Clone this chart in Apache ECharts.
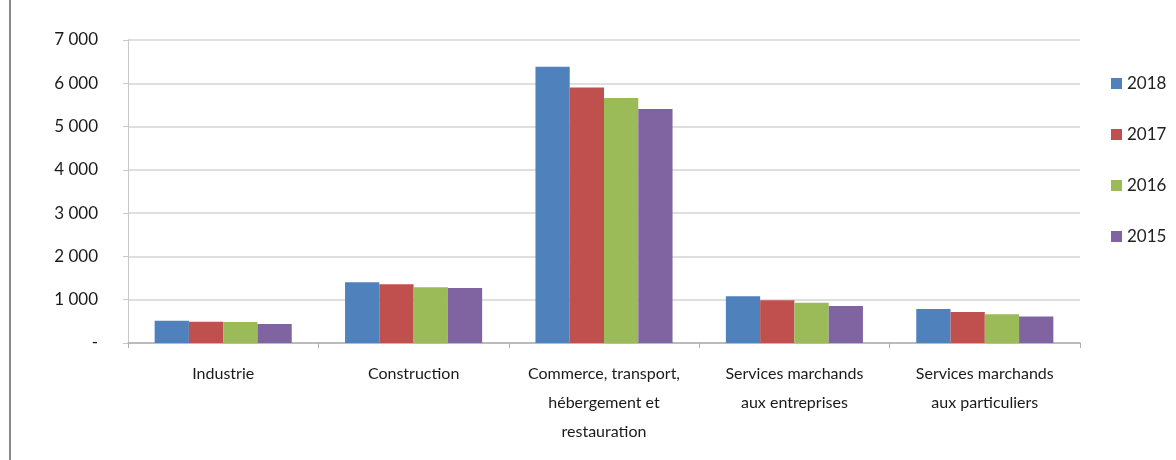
<!DOCTYPE html>
<html>
<head>
<meta charset="utf-8">
<script src="https://cdn.jsdelivr.net/npm/echarts@6/dist/echarts.min.js"></script>
<style>
  html, body { margin: 0; padding: 0; background: #fff; }
  #chart { width: 1176px; height: 460px; }
</style>
</head>
<body>
<div id="chart"></div>
<script>
// categories and values
var categories = [
  'Industrie',
  'Construction',
  'Commerce, transport,\nhébergement et\nrestauration',
  'Services marchands\naux entreprises',
  'Services marchands\naux particuliers'
]
var years = ['2018', '2017', '2016', '2015']
var colors = ['#4F81BD', '#C0504D', '#9BBB59', '#8064A2']
var v2018 = [515, 1405, 6380, 1080, 785]
var v2017 = [490, 1360, 5900, 985, 715]
var v2016 = [485, 1290, 5660, 930, 665]
var v2015 = [440, 1270, 5405, 855, 615]
var values = [v2018, v2017, v2016, v2015]

var font = 'Lato, "Open Sans", sans-serif'

var chartDom = document.getElementById('chart')
var myChart = echarts.init(chartDom)
var option

var series = years.map(function (y, i) {
  return {
    name: y,
    type: 'bar',
    data: values[i],
    barGap: '0%',
    barCategoryGap: '28%',
    itemStyle: { color: colors[i] }
  }
})

option = {
  animation: false,
  color: colors,
  textStyle: { fontFamily: font },
  graphic: [
    {
      type: 'line',
      shape: { x1: 10, y1: 0, x2: 10, y2: 460 },
      style: { stroke: '#8a8a8a', lineWidth: 2 }
    }
  ],
  grid: {
    left: 128,
    right: 96,
    top: 40,
    bottom: 117
  },
  legend: {
    orient: 'vertical',
    left: 1106,
    top: 68,
    itemWidth: 11,
    itemHeight: 11,
    itemGap: 30,
    icon: 'rect',
    textStyle: { fontSize: 17, lineHeight: 21, color: '#222', fontFamily: font }
  },
  xAxis: {
    type: 'category',
    data: categories,
    axisLine: { show: true, lineStyle: { color: '#b0b0b0', width: 1.5 } },
    axisTick: { show: true, length: 5, lineStyle: { color: '#b0b0b0' } },
    axisLabel: {
      interval: 0,
      margin: 16,
      fontSize: 16,
      lineHeight: 29,
      color: '#1a1a1a',
      fontFamily: font
    }
  },
  yAxis: {
    type: 'value',
    min: 0,
    max: 7000,
    interval: 1000,
    axisLine: { show: true, lineStyle: { color: '#c8c8c8', width: 1 } },
    axisTick: { show: true, length: 5, lineStyle: { color: '#c8c8c8' } },
    splitLine: { lineStyle: { color: '#d4d4d4', width: 1.5 } },
    axisLabel: {
      margin: 30,
      fontSize: 17,
      color: '#1a1a1a',
      fontFamily: font,
      formatter: function (v) {
        if (v === 0) return '-'
        return String(v).replace(/\B(?=(\d{3})+(?!\d))/g, ' ')
      }
    }
  },
  series: series
}

option && myChart.setOption(option)
</script>
</body>
</html>
